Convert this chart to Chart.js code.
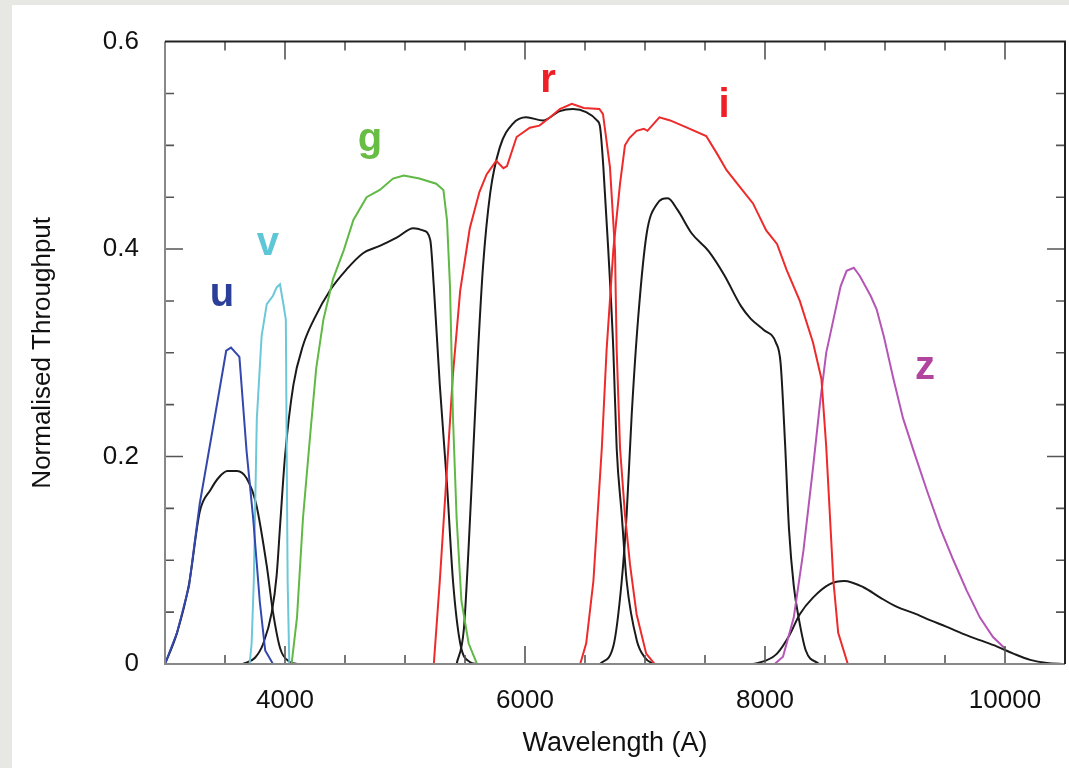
<!DOCTYPE html>
<html>
<head>
<meta charset="utf-8">
<script src="https://cdn.jsdelivr.net/npm/chart.js@4.4.1/dist/chart.umd.min.js"></script>
<style>
  html, body { margin: 0; padding: 0; }
  body { width: 1069px; height: 768px; background: #e7e7e4; position: relative; overflow: hidden; }
  .panel { position: absolute; left: 12px; top: 5px; right: 0; bottom: 0; background: #fff; }
  canvas { position: absolute; left: 0; top: 0; }
</style>
</head>
<body>
<div class="panel"></div>
<canvas id="filterChart" width="1069" height="768"></canvas>
<script>
// axis ticks
const xTickValues = [4000, 6000, 8000, 10000];
const yTickValues = [0, 0.2, 0.4, 0.6];

// u filter (blue)
const uWave = [3000, 3100, 3200, 3290, 3400, 3510, 3550, 3620, 3680, 3735, 3790, 3835, 3900];
const uThru = [0, 0.03, 0.075, 0.155, 0.228, 0.302, 0.305, 0.296, 0.205, 0.14, 0.06, 0.013, 0];

// v filter (cyan)
const vWave = [3705, 3722, 3740, 3765, 3805, 3848, 3900, 3930, 3958, 3985, 4007, 4014, 4022, 4036];
const vThru = [0, 0.02, 0.08, 0.236, 0.316, 0.347, 0.355, 0.363, 0.366, 0.348, 0.332, 0.205, 0.08, 0];

// g filter (green)
const gWave = [4055, 4100, 4150, 4210, 4260, 4320, 4400, 4490, 4570, 4680, 4790, 4900, 4990, 5120, 5260, 5320, 5350, 5375, 5400, 5430, 5470, 5530, 5600];
const gThru = [0, 0.045, 0.141, 0.221, 0.285, 0.332, 0.371, 0.399, 0.428, 0.45, 0.457, 0.468, 0.471, 0.468, 0.463, 0.457, 0.428, 0.364, 0.237, 0.141, 0.061, 0.02, 0];

// r filter (red)
const rWave = [5240, 5290, 5340, 5400, 5460, 5540, 5620, 5680, 5760, 5820, 5850, 5930, 6040, 6120, 6210, 6290, 6390, 6490, 6620, 6650, 6708, 6750, 6764, 6792, 6833, 6875, 6930, 7010, 7080];
const rThru = [0, 0.08, 0.17, 0.28, 0.36, 0.42, 0.455, 0.472, 0.485, 0.478, 0.48, 0.508, 0.517, 0.519, 0.527, 0.535, 0.54, 0.536, 0.535, 0.53, 0.479, 0.399, 0.303, 0.208, 0.144, 0.096, 0.048, 0.01, 0];

// i filter (red)
const iWave = [6460, 6510, 6570, 6640, 6680, 6736, 6792, 6833, 6870, 6930, 6990, 7020, 7120, 7210, 7350, 7510, 7600, 7680, 7790, 7900, 8010, 8100, 8180, 8290, 8400, 8470, 8510, 8540, 8570, 8610, 8690];
const iThru = [0, 0.02, 0.08, 0.208, 0.303, 0.399, 0.463, 0.5, 0.507, 0.514, 0.516, 0.514, 0.527, 0.524, 0.517, 0.509, 0.492, 0.476, 0.46, 0.444, 0.418, 0.405, 0.38, 0.35, 0.31, 0.275, 0.21, 0.145, 0.08, 0.03, 0];

// z filter (magenta)
const zWave = [8080, 8150, 8240, 8320, 8400, 8460, 8510, 8570, 8630, 8680, 8740, 8790, 8880, 8930, 8990, 9070, 9150, 9240, 9350, 9460, 9570, 9680, 9790, 9900, 10000];
const zThru = [0, 0.007, 0.045, 0.109, 0.189, 0.253, 0.3, 0.332, 0.364, 0.379, 0.382, 0.374, 0.355, 0.342, 0.316, 0.275, 0.237, 0.205, 0.167, 0.131, 0.1, 0.071, 0.045, 0.026, 0.015];

// second filter set (black)
const k1Wave = [3000, 3100, 3200, 3290, 3380, 3450, 3520, 3600, 3680, 3760, 3850, 3900, 3960, 4040, 4100];
const k1Thru = [0, 0.03, 0.077, 0.147, 0.168, 0.18, 0.186, 0.186, 0.179, 0.154, 0.093, 0.05, 0.015, 0.002, 0];

const k2Wave = [3650, 3750, 3820, 3890, 3930, 3960, 4000, 4070, 4150, 4240, 4380, 4510, 4650, 4790, 4930, 5070, 5150, 5210, 5240, 5290, 5350, 5400, 5460, 5540, 5600];
const k2Thru = [0, 0.006, 0.02, 0.05, 0.085, 0.135, 0.2, 0.269, 0.307, 0.332, 0.361, 0.38, 0.396, 0.403, 0.411, 0.42, 0.418, 0.409, 0.364, 0.269, 0.173, 0.08, 0.02, 0.002, 0];

const k3Wave = [5430, 5490, 5530, 5570, 5610, 5650, 5710, 5790, 5900, 6010, 6150, 6290, 6400, 6510, 6600, 6625, 6653, 6694, 6736, 6764, 6806, 6847, 6931, 7000, 7070];
const k3Thru = [0, 0.033, 0.112, 0.208, 0.304, 0.383, 0.454, 0.498, 0.521, 0.527, 0.524, 0.533, 0.535, 0.532, 0.524, 0.518, 0.479, 0.399, 0.303, 0.208, 0.144, 0.08, 0.023, 0.006, 0];

const k4Wave = [6625, 6736, 6806, 6847, 6889, 6944, 7014, 7097, 7190, 7270, 7390, 7530, 7660, 7800, 7880, 7990, 8090, 8130, 8167, 8200, 8240, 8280, 8340, 8450];
const k4Thru = [0, 0.017, 0.08, 0.144, 0.24, 0.335, 0.415, 0.443, 0.449, 0.438, 0.415, 0.398, 0.375, 0.345, 0.333, 0.322, 0.31, 0.29, 0.213, 0.13, 0.075, 0.045, 0.013, 0];

const k5Wave = [7900, 8000, 8100, 8200, 8290, 8400, 8540, 8660, 8820, 8960, 9100, 9240, 9380, 9510, 9650, 9790, 9930, 10070, 10210, 10350, 10500];
const k5Thru = [0, 0.003, 0.01, 0.027, 0.048, 0.064, 0.077, 0.08, 0.074, 0.064, 0.055, 0.049, 0.042, 0.036, 0.029, 0.023, 0.017, 0.01, 0.004, 0.001, 0];

// filter name labels
const bandNames = ['u', 'v', 'g', 'r', 'i', 'z'];
const bandLabelWave = [3475, 3858, 4708, 6192, 7658, 9333];
const bandLabelThru = [0.3455, 0.394, 0.495, 0.551, 0.527, 0.2746];
const bandLabelColors = ['#2b3f98', '#5ec6d6', '#68bd45', '#ee1f26', '#ee1f26', '#b0449f'];

function pts(w, t) {
    return w.map((x, i) => ({ x: x, y: t[i] }));
}

function curve(label, w, t, color, smooth) {
    return {
        label: label,
        data: pts(w, t),
        borderColor: color,
        borderWidth: 2,
        pointRadius: 0,
        fill: false,
        tension: 0,
        cubicInterpolationMode: smooth ? 'monotone' : 'default',
    };
}

const font = "'Liberation Sans', Arial, Helvetica, sans-serif";

// inward ticks on all four sides + frame + band labels
const framePlugin = {
    id: 'frame',
    afterDatasetsDraw(chart) {
        const ctx = chart.ctx;
        const a = chart.chartArea;
        const xs = chart.scales.x;
        const ys = chart.scales.y;
        ctx.save();

        ctx.lineWidth = 1.6;
        ctx.strokeStyle = '#555';
        for (let v = 3500; v <= 10000; v += 500) {
            const px = xs.getPixelForValue(v);
            const len = xTickValues.includes(v) ? 18 : 9;
            ctx.beginPath();
            ctx.moveTo(px, a.bottom); ctx.lineTo(px, a.bottom - len);
            ctx.moveTo(px, a.top); ctx.lineTo(px, a.top + len);
            ctx.stroke();
        }
        for (let k = 1; k < 12; k++) {
            const v = k * 0.05;
            const py = ys.getPixelForValue(v);
            const len = (k % 4 === 0) ? 18 : 9;
            ctx.beginPath();
            ctx.moveTo(a.left, py); ctx.lineTo(a.left + len, py);
            ctx.moveTo(a.right, py); ctx.lineTo(a.right - len, py);
            ctx.stroke();
        }

        ctx.lineWidth = 2;
        ctx.strokeStyle = '#888';
        ctx.beginPath();
        ctx.moveTo(a.left, a.top); ctx.lineTo(a.left, a.bottom); ctx.lineTo(a.right, a.bottom);
        ctx.stroke();
        ctx.strokeStyle = '#222';
        ctx.beginPath();
        ctx.moveTo(a.left, a.top); ctx.lineTo(a.right, a.top); ctx.lineTo(a.right, a.bottom);
        ctx.stroke();

        ctx.font = 'bold 40px ' + font;
        ctx.textAlign = 'center';
        ctx.textBaseline = 'alphabetic';
        bandNames.forEach((name, i) => {
            ctx.fillStyle = bandLabelColors[i];
            ctx.fillText(name, xs.getPixelForValue(bandLabelWave[i]), ys.getPixelForValue(bandLabelThru[i]));
        });
        ctx.restore();
    }
};

new Chart(document.getElementById('filterChart'), {
    type: 'line',
    data: {
        datasets: [
            curve('u', uWave, uThru, '#3447ad', false),
            curve('v', vWave, vThru, '#6cc8d8', false),
            curve('g', gWave, gThru, '#5fb944', false),
            curve('r', rWave, rThru, '#ee2a2a', false),
            curve('i', iWave, iThru, '#ee2a2a', false),
            curve('z', zWave, zThru, '#b556b6', false),
            curve('u2', k1Wave, k1Thru, '#1a1a1a', true),
            curve('g2', k2Wave, k2Thru, '#1a1a1a', true),
            curve('r2', k3Wave, k3Thru, '#1a1a1a', true),
            curve('i2', k4Wave, k4Thru, '#1a1a1a', true),
            curve('z2', k5Wave, k5Thru, '#1a1a1a', true),
        ],
    },
    options: {
        responsive: false,
        animation: false,
        layout: { padding: { left: 12, top: 36, right: 4, bottom: 0 } },
        plugins: {
            legend: { display: false },
            tooltip: { enabled: false },
        },
        scales: {
            x: {
                type: 'linear',
                min: 3000,
                max: 10500,
                afterBuildTicks: (scale) => { scale.ticks = xTickValues.map(v => ({ value: v })); },
                afterFit: (scale) => { scale.height = 104; },
                grid: { display: false, drawTicks: false },
                border: { display: false },
                ticks: {
                    padding: 21,
                    color: '#111',
                    font: { family: font, size: 26 },
                    callback: (v) => String(v),
                },
                title: {
                    display: true,
                    text: 'Wavelength (A)',
                    color: '#111',
                    font: { family: font, size: 27 },
                    padding: { top: 0, bottom: 8 },
                },
            },
            y: {
                min: 0,
                max: 0.6,
                afterBuildTicks: (scale) => { scale.ticks = yTickValues.map(v => ({ value: v })); },
                afterFit: (scale) => { scale.width = 153; },
                grid: { display: false, drawTicks: false },
                border: { display: false },
                ticks: {
                    padding: 26,
                    color: '#111',
                    font: { family: font, size: 26 },
                    callback: (v) => String(v),
                },
                title: {
                    display: true,
                    text: 'Normalised Throughput',
                    color: '#111',
                    font: { family: font, size: 26 },
                    padding: { top: 15, bottom: 0 },
                },
            },
        },
    },
    plugins: [framePlugin],
});
</script>
</body>
</html>
